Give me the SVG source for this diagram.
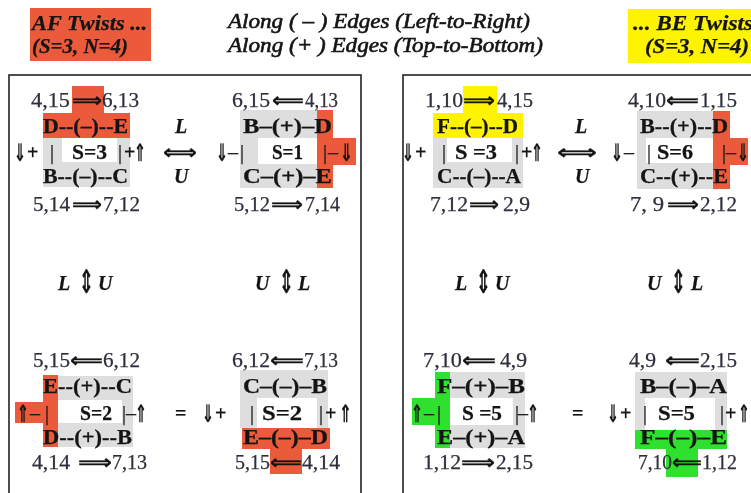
<svg xmlns="http://www.w3.org/2000/svg" width="751" height="493" viewBox="0 0 751 493">
<defs>
<filter id="gs" x="-0.02" y="-0.02" width="1.04" height="1.04" filterUnits="objectBoundingBox"><feOffset dx="0" dy="0"/></filter>
</defs>
<style>
.t{font-family:"Liberation Serif","DejaVu Serif",serif;font-size:20px;fill:#141414;stroke:#141414;stroke-width:0.25}
.num{fill:#2e2e3c;stroke:#2e2e3c}
.bd{font-weight:bold}
.it{font-style:italic;font-weight:bold}
.hd{font-style:italic;font-size:21px}
.ar{font-family:"DejaVu Sans",sans-serif;font-weight:bold}
.va{font-size:24px}
.vv{font-size:32px}
.or{fill:#EB5B3B}
.ye{fill:#FFF400}
.gr{fill:#2FE02F}
.gy{fill:#DEDEDE}
.wh{fill:#FFFFFF}
.frame{fill:none;stroke:#222;stroke-width:1.6}
g{filter:url(#gs)}
</style>
<rect x="0" y="0" width="751" height="493" fill="#fff"/>

<g id="header">
  <rect class="or" x="30" y="8" width="121" height="53"/>
  <text class="t hd bd" x="32" y="30" textLength="115" lengthAdjust="spacingAndGlyphs">AF Twists ...</text>
  <text class="t hd bd" x="32" y="53" textLength="96" lengthAdjust="spacingAndGlyphs">(S=3, N=4)</text>
  <text class="t hd" x="228" y="28" textLength="302" lengthAdjust="spacingAndGlyphs" style="stroke-width:0.6">Along ( – ) Edges (Left-to-Right)</text>
  <text class="t hd" x="228" y="52" textLength="315" lengthAdjust="spacingAndGlyphs" style="stroke-width:0.6">Along (+ ) Edges (Top-to-Bottom)</text>
  <rect class="ye" x="628" y="9" width="123" height="54"/>
  <text class="t hd bd" x="633" y="30" textLength="120" lengthAdjust="spacingAndGlyphs">... BE Twists</text>
  <text class="t hd bd" x="645" y="53" textLength="104" lengthAdjust="spacingAndGlyphs">(S=3, N=4)</text>
</g>

<g id="frames">
  <rect class="frame" x="9" y="75" width="352" height="440"/>
  <rect class="frame" x="403" y="75" width="370" height="440"/>
</g>

<g id="af-top-left">
  <rect class="or" x="72" y="86" width="32" height="28"/>
  <rect class="or" x="43" y="113" width="87" height="25"/>
  <rect class="gy" x="43" y="138" width="87" height="49"/>
  <rect class="wh" x="62" y="138" width="55" height="24"/>
  <text class="t num" x="31" y="107" textLength="39" lengthAdjust="spacingAndGlyphs">4,15</text>
  <text class="t ar" x="72" y="107" textLength="30" lengthAdjust="spacingAndGlyphs">⟹</text>
  <text class="t num" x="102" y="107" textLength="37" lengthAdjust="spacingAndGlyphs">6,13</text>
  <text class="t bd" x="43" y="133" textLength="85" lengthAdjust="spacingAndGlyphs">D--(–)--E</text>
  <text class="t ar va" x="14" y="161" textLength="12" lengthAdjust="spacingAndGlyphs">⇓</text>
  <text class="t bd" x="27" y="159">+</text>
  <text class="t" x="50" y="159">|</text>
  <text class="t bd" x="72" y="159" textLength="35" lengthAdjust="spacingAndGlyphs">S=3</text>
  <text class="t" x="118" y="159">|</text>
  <text class="t bd" x="124" y="159">+</text>
  <text class="t ar va" x="134" y="161" textLength="12" lengthAdjust="spacingAndGlyphs">⇑</text>
  <text class="t bd" x="43" y="183" textLength="85" lengthAdjust="spacingAndGlyphs">B--(–)--C</text>
  <text class="t num" x="33" y="211" textLength="37" lengthAdjust="spacingAndGlyphs">5,14</text>
  <text class="t ar" x="72" y="211" textLength="30" lengthAdjust="spacingAndGlyphs">⟹</text>
  <text class="t num" x="103" y="211" textLength="37" lengthAdjust="spacingAndGlyphs">7,12</text>
</g>

<g id="af-top-right">
  <rect class="gy" x="240" y="110" width="77" height="78"/>
  <rect class="wh" x="258" y="138" width="59" height="26"/>
  <rect class="or" x="317" y="110" width="16" height="78"/>
  <rect class="or" x="317" y="138" width="39" height="27"/>
  <text class="t num" x="232" y="107" textLength="38" lengthAdjust="spacingAndGlyphs">6,15</text>
  <text class="t ar" x="272" y="107" textLength="32" lengthAdjust="spacingAndGlyphs">⟸</text>
  <text class="t num" x="305" y="107" textLength="33" lengthAdjust="spacingAndGlyphs">4,13</text>
  <text class="t bd" x="243" y="133" textLength="89" lengthAdjust="spacingAndGlyphs">B–(+)–D</text>
  <text class="t ar va" x="216" y="161" textLength="12" lengthAdjust="spacingAndGlyphs">⇓</text>
  <text class="t" x="228" y="159">–</text>
  <text class="t" x="240" y="159">|</text>
  <text class="t bd" x="272" y="159" textLength="31" lengthAdjust="spacingAndGlyphs">S=1</text>
  <text class="t" x="323" y="159">|</text>
  <text class="t" x="328" y="159">–</text>
  <text class="t ar va" x="340" y="161" textLength="13" lengthAdjust="spacingAndGlyphs">⇓</text>
  <text class="t bd" x="243" y="183" textLength="89" lengthAdjust="spacingAndGlyphs">C–(+)–E</text>
  <text class="t num" x="234" y="211" textLength="36" lengthAdjust="spacingAndGlyphs">5,12</text>
  <text class="t ar" x="271" y="211" textLength="32" lengthAdjust="spacingAndGlyphs">⟹</text>
  <text class="t num" x="305" y="211" textLength="35" lengthAdjust="spacingAndGlyphs">7,14</text>
</g>

<g id="be-top-left">
  <rect class="ye" x="463" y="86" width="34" height="28"/>
  <rect class="ye" x="433" y="113" width="90" height="25"/>
  <rect class="gy" x="433" y="138" width="90" height="50"/>
  <rect class="wh" x="447" y="138" width="65" height="24"/>
  <text class="t num" x="425" y="107" textLength="38" lengthAdjust="spacingAndGlyphs">1,10</text>
  <text class="t ar" x="463" y="107" textLength="32" lengthAdjust="spacingAndGlyphs">⟹</text>
  <text class="t num" x="497" y="107" textLength="36" lengthAdjust="spacingAndGlyphs">4,15</text>
  <text class="t bd" x="437" y="133" textLength="81" lengthAdjust="spacingAndGlyphs">F--(–)--D</text>
  <text class="t ar va" x="402" y="161" textLength="12" lengthAdjust="spacingAndGlyphs">⇓</text>
  <text class="t bd" x="415" y="159">+</text>
  <text class="t" x="442" y="159">|</text>
  <text class="t bd" x="455" y="159" textLength="42" lengthAdjust="spacingAndGlyphs">S =3</text>
  <text class="t" x="515" y="159">|</text>
  <text class="t bd" x="521" y="159">+</text>
  <text class="t ar va" x="531" y="161" textLength="12" lengthAdjust="spacingAndGlyphs">⇑</text>
  <text class="t bd" x="437" y="183" textLength="84" lengthAdjust="spacingAndGlyphs">C--(–)--A</text>
  <text class="t num" x="430" y="211" textLength="38" lengthAdjust="spacingAndGlyphs">7,12</text>
  <text class="t ar" x="469" y="211" textLength="30" lengthAdjust="spacingAndGlyphs">⟹</text>
  <text class="t num" x="503" y="211" textLength="27" lengthAdjust="spacingAndGlyphs">2,9</text>
</g>

<g id="be-top-right">
  <rect class="gy" x="637" y="111" width="76" height="78"/>
  <rect class="wh" x="646" y="138" width="67" height="25"/>
  <rect class="or" x="713" y="111" width="17" height="78"/>
  <rect class="or" x="713" y="138" width="35" height="27"/>
  <text class="t num" x="628" y="107" textLength="38" lengthAdjust="spacingAndGlyphs">4,10</text>
  <text class="t ar" x="666" y="107" textLength="33" lengthAdjust="spacingAndGlyphs">⟸</text>
  <text class="t num" x="700" y="107" textLength="37" lengthAdjust="spacingAndGlyphs">1,15</text>
  <text class="t bd" x="640" y="133" textLength="88" lengthAdjust="spacingAndGlyphs">B--(+)--D</text>
  <text class="t ar va" x="611" y="161" textLength="12" lengthAdjust="spacingAndGlyphs">⇓</text>
  <text class="t" x="624" y="159">–</text>
  <text class="t" x="647" y="159">|</text>
  <text class="t bd" x="657" y="159" textLength="36" lengthAdjust="spacingAndGlyphs">S=6</text>
  <text class="t" x="722" y="159">|</text>
  <text class="t" x="726" y="159">–</text>
  <text class="t ar va" x="737" y="161" textLength="12" lengthAdjust="spacingAndGlyphs">⇓</text>
  <text class="t bd" x="640" y="183" textLength="88" lengthAdjust="spacingAndGlyphs">C--(+)--E</text>
  <text class="t num" x="630" y="211" textLength="34" lengthAdjust="spacingAndGlyphs">7, 9</text>
  <text class="t ar" x="667" y="211" textLength="32" lengthAdjust="spacingAndGlyphs">⟹</text>
  <text class="t num" x="700" y="211" textLength="37" lengthAdjust="spacingAndGlyphs">2,12</text>
</g>

<g id="af-bottom-left">
  <rect class="or" x="43" y="375" width="15" height="72"/>
  <rect class="or" x="15" y="402" width="43" height="21"/>
  <rect class="gy" x="58" y="376" width="75" height="71"/>
  <rect class="wh" x="58" y="400" width="64" height="23"/>
  <text class="t num" x="33" y="367" textLength="37" lengthAdjust="spacingAndGlyphs">5,15</text>
  <text class="t ar" x="70" y="367" textLength="33" lengthAdjust="spacingAndGlyphs">⟸</text>
  <text class="t num" x="103" y="367" textLength="37" lengthAdjust="spacingAndGlyphs">6,12</text>
  <text class="t bd" x="43" y="393" textLength="89" lengthAdjust="spacingAndGlyphs">E--(+)--C</text>
  <text class="t ar va" x="17" y="422" textLength="12" lengthAdjust="spacingAndGlyphs">⇑</text>
  <text class="t" x="30" y="420">–</text>
  <text class="t" x="45" y="420">|</text>
  <text class="t bd" x="80" y="420" textLength="32" lengthAdjust="spacingAndGlyphs">S=2</text>
  <text class="t" x="122" y="420">|</text>
  <text class="t" x="126" y="420">–</text>
  <text class="t ar va" x="135" y="422" textLength="12" lengthAdjust="spacingAndGlyphs">⇑</text>
  <text class="t bd" x="43" y="444" textLength="89" lengthAdjust="spacingAndGlyphs">D--(+)--B</text>
  <text class="t num" x="32" y="469" textLength="38" lengthAdjust="spacingAndGlyphs">4,14</text>
  <text class="t ar" x="78" y="469" textLength="34" lengthAdjust="spacingAndGlyphs">⟹</text>
  <text class="t num" x="112" y="469" textLength="35" lengthAdjust="spacingAndGlyphs">7,13</text>
</g>

<g id="af-bottom-right">
  <rect class="gy" x="240" y="370" width="88" height="58"/>
  <rect class="wh" x="257" y="398" width="60" height="30"/>
  <rect class="or" x="242" y="428" width="88" height="21"/>
  <rect class="or" x="270" y="449" width="32" height="25"/>
  <text class="t num" x="232" y="367" textLength="38" lengthAdjust="spacingAndGlyphs">6,12</text>
  <text class="t ar" x="270" y="367" textLength="34" lengthAdjust="spacingAndGlyphs">⟸</text>
  <text class="t num" x="304" y="367" textLength="34" lengthAdjust="spacingAndGlyphs">7,13</text>
  <text class="t bd" x="243" y="393" textLength="84" lengthAdjust="spacingAndGlyphs">C–(–)–B</text>
  <text class="t ar va" x="202" y="422" textLength="12" lengthAdjust="spacingAndGlyphs">⇓</text>
  <text class="t bd" x="215" y="420">+</text>
  <text class="t" x="250" y="420">|</text>
  <text class="t bd" x="262" y="420" textLength="40" lengthAdjust="spacingAndGlyphs">S=2</text>
  <text class="t" x="319" y="420">|</text>
  <text class="t bd" x="325" y="420">+</text>
  <text class="t ar va" x="339" y="422" textLength="13" lengthAdjust="spacingAndGlyphs">⇑</text>
  <text class="t bd" x="243" y="444" textLength="85" lengthAdjust="spacingAndGlyphs">E–(–)–D</text>
  <text class="t num" x="235" y="469" textLength="35" lengthAdjust="spacingAndGlyphs">5,15</text>
  <text class="t ar" x="270" y="469" textLength="32" lengthAdjust="spacingAndGlyphs">⟸</text>
  <text class="t num" x="302" y="469" textLength="38" lengthAdjust="spacingAndGlyphs">4,14</text>
</g>

<g id="be-bottom-left">
  <rect class="gr" x="435" y="372" width="15" height="76"/>
  <rect class="gr" x="412" y="398" width="38" height="27"/>
  <rect class="gy" x="450" y="372" width="75" height="76"/>
  <rect class="wh" x="450" y="398" width="63" height="27"/>
  <text class="t num" x="423" y="367" textLength="39" lengthAdjust="spacingAndGlyphs">7,10</text>
  <text class="t ar" x="462" y="367" textLength="34" lengthAdjust="spacingAndGlyphs">⟸</text>
  <text class="t num" x="500" y="367" textLength="27" lengthAdjust="spacingAndGlyphs">4,9</text>
  <text class="t bd" x="437" y="393" textLength="88" lengthAdjust="spacingAndGlyphs">F–(+)–B</text>
  <text class="t ar va" x="411" y="422" textLength="12" lengthAdjust="spacingAndGlyphs">⇑</text>
  <text class="t" x="424" y="420">–</text>
  <text class="t" x="437" y="420">|</text>
  <text class="t bd" x="462" y="420" textLength="40" lengthAdjust="spacingAndGlyphs">S =5</text>
  <text class="t" x="515" y="420">|</text>
  <text class="t" x="518" y="420">–</text>
  <text class="t ar va" x="527" y="422" textLength="12" lengthAdjust="spacingAndGlyphs">⇑</text>
  <text class="t bd" x="437" y="444" textLength="88" lengthAdjust="spacingAndGlyphs">E–(+)–A</text>
  <text class="t num" x="423" y="469" textLength="38" lengthAdjust="spacingAndGlyphs">1,12</text>
  <text class="t ar" x="461" y="469" textLength="34" lengthAdjust="spacingAndGlyphs">⟹</text>
  <text class="t num" x="496" y="469" textLength="37" lengthAdjust="spacingAndGlyphs">2,15</text>
</g>

<g id="be-bottom-right">
  <rect class="gy" x="635" y="372" width="92" height="58"/>
  <rect class="wh" x="645" y="398" width="70" height="32"/>
  <rect class="gr" x="635" y="430" width="92" height="19"/>
  <rect class="gr" x="666" y="449" width="32" height="28"/>
  <text class="t num" x="629" y="367" textLength="27" lengthAdjust="spacingAndGlyphs">4,9</text>
  <text class="t ar" x="665" y="367" textLength="35" lengthAdjust="spacingAndGlyphs">⟸</text>
  <text class="t num" x="700" y="367" textLength="37" lengthAdjust="spacingAndGlyphs">2,15</text>
  <text class="t bd" x="640" y="393" textLength="87" lengthAdjust="spacingAndGlyphs">B–(–)–A</text>
  <text class="t ar va" x="607" y="422" textLength="12" lengthAdjust="spacingAndGlyphs">⇓</text>
  <text class="t bd" x="620" y="420">+</text>
  <text class="t" x="643" y="420">|</text>
  <text class="t bd" x="658" y="420" textLength="37" lengthAdjust="spacingAndGlyphs">S=5</text>
  <text class="t" x="720" y="420">|</text>
  <text class="t bd" x="725" y="420">+</text>
  <text class="t ar va" x="738" y="422" textLength="12" lengthAdjust="spacingAndGlyphs">⇑</text>
  <text class="t bd" x="640" y="444" textLength="87" lengthAdjust="spacingAndGlyphs">F–(–)–E</text>
  <text class="t num" x="638" y="469" textLength="34" lengthAdjust="spacingAndGlyphs">7,10</text>
  <text class="t ar" x="672" y="469" textLength="30" lengthAdjust="spacingAndGlyphs">⟸</text>
  <text class="t num" x="702" y="469" textLength="35" lengthAdjust="spacingAndGlyphs">1,12</text>
</g>

<g id="connectors">
  <text class="t ar" x="163" y="159" textLength="34" lengthAdjust="spacingAndGlyphs">⟺</text>
  <text class="t it" x="175" y="133">L</text>
  <text class="t it" x="174" y="183">U</text>
  <text class="t ar" x="557" y="159" textLength="40" lengthAdjust="spacingAndGlyphs">⟺</text>
  <text class="t it" x="575" y="133">L</text>
  <text class="t it" x="575" y="183">U</text>
  <text class="t it" x="58" y="290">L</text>
  <text class="t ar vv" x="79" y="293" textLength="15" lengthAdjust="spacingAndGlyphs">⇕</text>
  <text class="t it" x="98" y="290">U</text>
  <text class="t it" x="255" y="290">U</text>
  <text class="t ar vv" x="279" y="293" textLength="15" lengthAdjust="spacingAndGlyphs">⇕</text>
  <text class="t it" x="298" y="290">L</text>
  <text class="t it" x="455" y="290">L</text>
  <text class="t ar vv" x="476" y="293" textLength="15" lengthAdjust="spacingAndGlyphs">⇕</text>
  <text class="t it" x="495" y="290">U</text>
  <text class="t it" x="647" y="290">U</text>
  <text class="t ar vv" x="671" y="293" textLength="15" lengthAdjust="spacingAndGlyphs">⇕</text>
  <text class="t it" x="691" y="290">L</text>
  <text class="t bd" x="175" y="420">=</text>
  <text class="t bd" x="572" y="420">=</text>
</g>
</svg>
